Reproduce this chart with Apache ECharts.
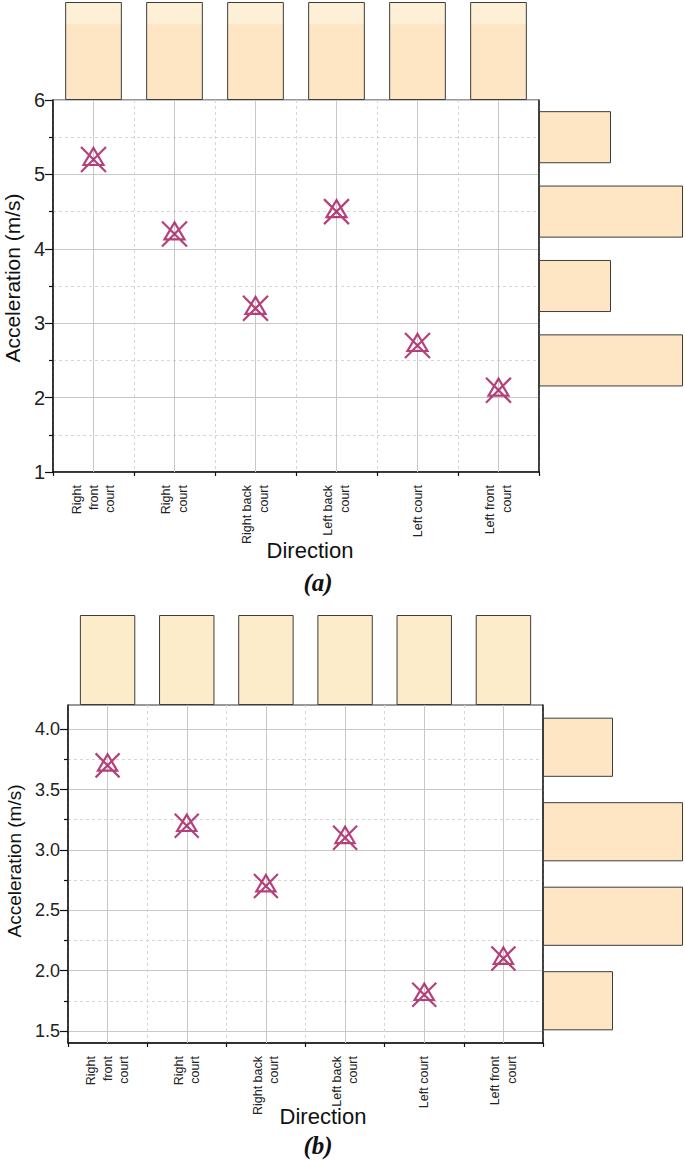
<!DOCTYPE html>
<html><head><meta charset="utf-8">
<script src="https://cdn.jsdelivr.net/npm/echarts@6/dist/echarts.min.js"></script>
<style>html,body{margin:0;padding:0;background:#fff}#c{width:685px;height:1161px}</style>
</head><body><div id="c"></div>
<script>
// ---- data ----
const categories = ['Right\nfront\ncourt', 'Right\ncourt', 'Right back\ncourt', 'Left back\ncourt', 'Left court', 'Left front\ncourt'];
const accelA = [5.2, 4.2, 3.2, 4.5, 2.7, 2.1];
const accelB = [3.7, 3.2, 2.7, 3.1, 1.8, 2.1];
const topCountsA = [1, 1, 1, 1, 1, 1];
const topCountsB = [1, 1, 1, 1, 1, 1];
const binsA = ['1-2', '2-3', '3-4', '4-5', '5-6'];
const binCountsA = [0, 2, 1, 2, 1];
const binsB = ['1.4-2.1', '2.1-2.8', '2.8-3.5', '3.5-4.2'];
const binCountsB = [1, 2, 2, 1];
const yTicksB = [1.5, 2.0, 2.5, 3.0, 3.5, 4.0];
const yMinorTicksB = [1.75, 2.25, 2.75, 3.25, 3.75];
const yNameText = 'Acceleration (m/s)';
const xNameText = 'Direction';
const panelLabels = ['(a)', '(b)'];

// ---- style ----
const FONT = 'Liberation Sans, Arial, sans-serif';
const MARK = '#a3125a';
const BAR_FILL = '#fee6c4';
const BAR_EDGE = '#3c3c3c';
const symbolPath = 'path://M0 0 L25 25 M25 0 L0 25 M12.5 1 L22.5 18 L2.5 18 Z';

const OB = {outerBoundsMode: 'none', containLabel: false};
const grids = [
  Object.assign({left: 53, top: 100, width: 486, height: 372, show: true, borderColor: '#333', borderWidth: 1}, OB),   // a main 0
  Object.assign({left: 53, top: 2, width: 486, height: 98}, OB),                                                       // a top 1
  Object.assign({left: 539, top: 100, width: 144, height: 372}, OB),                                                   // a right 2
  Object.assign({left: 68, top: 705, width: 475, height: 338, show: true, borderColor: '#333', borderWidth: 1}, OB),   // b main 3
  Object.assign({left: 68, top: 615, width: 475, height: 90}, OB),                                                     // b top 4
  Object.assign({left: 543, top: 705, width: 140, height: 338}, OB)                                                    // b right 5
];

function mainX(grid) {
  return {
    type: 'category', gridIndex: grid, data: categories, boundaryGap: true,
    axisLine: {lineStyle: {color: '#111', width: 1.5}},
    axisTick: {alignWithLabel: true, length: 6, lineStyle: {color: '#111', width: 1.2}},
    axisLabel: {rotate: 90, fontFamily: FONT, fontSize: 12.5, lineHeight: 16.5, color: '#222', margin: 13, interval: 0},
    splitLine: {show: false}
  };
}
function minorX(grid) {
  return {
    type: 'category', gridIndex: grid, data: categories, boundaryGap: true, position: 'bottom',
    axisLine: {show: false},
    axisTick: {show: true, length: 4, lineStyle: {color: '#111', width: 1.2}},
    axisLabel: {show: false},
    splitLine: {show: true, lineStyle: {color: '#d6d6d6', width: 1, type: [3, 3]}}
  };
}
function hiddenCat(grid, data) {
  return {type: 'category', gridIndex: grid, data: data, boundaryGap: true,
    axisLine: {show: false}, axisTick: {show: false}, axisLabel: {show: false}, splitLine: {show: false}};
}
function hiddenVal(grid, max) {
  return {type: 'value', gridIndex: grid, min: 0, max: max,
    axisLine: {show: false}, axisTick: {show: false}, axisLabel: {show: false}, splitLine: {show: false}};
}

const xAxes = [
  mainX(0),                       // 0
  minorX(0),                      // 1
  hiddenCat(1, categories),       // 2
  hiddenVal(2, 2),                // 3
  mainX(3),                       // 4
  minorX(3),                      // 5
  hiddenCat(4, categories),       // 6
  hiddenVal(5, 2)                 // 7
];

const yAxes = [
  { // 0 a main
    type: 'value', gridIndex: 0, min: 1, max: 6, interval: 1,
    name: yNameText, nameLocation: 'middle', nameGap: 27,
    nameTextStyle: {fontFamily: FONT, fontSize: 21, color: '#111', padding: [0, 0, 0, 16]},
    axisLine: {show: true, lineStyle: {color: '#111', width: 1.5}},
    axisTick: {show: true, length: 8, lineStyle: {color: '#111', width: 1.2}},
    minorTick: {show: true, splitNumber: 2, length: 4, lineStyle: {color: '#111', width: 1.2}},
    axisLabel: {fontFamily: FONT, fontSize: 20, color: '#222', margin: 8},
    splitLine: {show: true, lineStyle: {color: '#c8c8c8', width: 1}},
    minorSplitLine: {show: true, lineStyle: {color: '#d6d6d6', width: 1, type: [3, 3]}}
  },
  hiddenVal(1, 1), // 1 a top
  { // 2 a right
    type: 'category', gridIndex: 2, data: binsA, boundaryGap: true,
    axisLine: {show: true, lineStyle: {color: '#222', width: 1.5}},
    axisTick: {show: false}, axisLabel: {show: false}, splitLine: {show: false}
  },
  { // 3 b main
    type: 'value', gridIndex: 3, min: 1.4, max: 4.2,
    name: yNameText, nameLocation: 'middle', nameGap: 41,
    nameTextStyle: {fontFamily: FONT, fontSize: 19, color: '#111', padding: [0, 0, 0, 26]},
    axisLine: {show: true, lineStyle: {color: '#111', width: 1.5}},
    axisTick: {show: true, length: 8, customValues: yTicksB, lineStyle: {color: '#111', width: 1.2}},
    axisLabel: {fontFamily: FONT, fontSize: 18, color: '#222', margin: 8, customValues: yTicksB,
      formatter: v => Number(v).toFixed(1)},
    splitLine: {show: true, lineStyle: {color: '#c8c8c8', width: 1}}
  },
  { // 4 b minor
    type: 'value', gridIndex: 3, min: 1.4, max: 4.2, position: 'left',
    axisLine: {show: false},
    axisTick: {show: true, length: 4, customValues: yMinorTicksB, lineStyle: {color: '#111', width: 1.2}},
    axisLabel: {show: false, customValues: yMinorTicksB},
    splitLine: {show: true, lineStyle: {color: '#d6d6d6', width: 1, type: [3, 3]}}
  },
  hiddenVal(4, 1), // 5 b top
  { // 6 b right
    type: 'category', gridIndex: 5, data: binsB, boundaryGap: true,
    axisLine: {show: true, lineStyle: {color: '#222', width: 1.5}},
    axisTick: {show: false}, axisLabel: {show: false}, splitLine: {show: false}
  }
];

const barStyle = {color: BAR_FILL, borderColor: BAR_EDGE, borderWidth: 1};
const topGrad = {type: 'linear', x: 0, y: 0, x2: 0, y2: 1, colorStops: [
  {offset: 0, color: '#fdf0d6'}, {offset: 0.22, color: '#fdf0d6'},
  {offset: 0.23, color: '#fee6c4'}, {offset: 1, color: '#fee6c4'}]};

const scatterStyle = {color: 'rgba(0,0,0,0)', borderColor: MARK, borderWidth: 2.2};
const catLines = {
  silent: true, symbol: ['none', 'none'], label: {show: false},
  lineStyle: {color: '#c8c8c8', width: 1, type: 'solid'},
  data: categories.map(c => ({xAxis: c}))
};

const series = [
  {type: 'bar', xAxisIndex: 2, yAxisIndex: 1, data: topCountsA, barWidth: '70%',
   itemStyle: {color: topGrad, borderColor: BAR_EDGE, borderWidth: 1}, silent: true},
  {type: 'bar', xAxisIndex: 3, yAxisIndex: 2, data: binCountsA, barWidth: '70%', itemStyle: barStyle, silent: true},
  {type: 'scatter', xAxisIndex: 0, yAxisIndex: 0, data: accelA, symbol: symbolPath, symbolSize: 25,
   symbolKeepAspect: true, itemStyle: scatterStyle, z: 5, markLine: catLines},
  {type: 'bar', xAxisIndex: 6, yAxisIndex: 5, data: topCountsB, barWidth: '70%',
   itemStyle: {color: '#fdecc9', borderColor: BAR_EDGE, borderWidth: 1}, silent: true},
  {type: 'bar', xAxisIndex: 7, yAxisIndex: 6, data: binCountsB, barWidth: '70%', itemStyle: barStyle, silent: true},
  {type: 'scatter', xAxisIndex: 4, yAxisIndex: 3, data: accelB, symbol: symbolPath, symbolSize: 24,
   symbolKeepAspect: true, itemStyle: scatterStyle, z: 5, markLine: catLines}
];

const nameFont = '22px "Liberation Sans", Arial, sans-serif';
const panelFont = 'italic bold 25px "Liberation Serif", "Times New Roman", serif';
const chart = echarts.init(document.getElementById('c'), null, {renderer: 'svg'});
chart.setOption({
  backgroundColor: '#fff',
  animation: false,
  grid: grids,
  xAxis: xAxes,
  yAxis: yAxes,
  series: series,
  graphic: [
    {type: 'text', x: 310, y: 550, style: {text: xNameText, font: nameFont, fill: '#111', align: 'center', verticalAlign: 'middle'}},
    {type: 'text', x: 318, y: 582, style: {text: panelLabels[0], font: panelFont, fill: '#111', align: 'center', verticalAlign: 'middle'}},
    {type: 'text', x: 323, y: 1116, style: {text: xNameText, font: nameFont, fill: '#111', align: 'center', verticalAlign: 'middle'}},
    {type: 'text', x: 318, y: 1145, style: {text: panelLabels[1], font: panelFont, fill: '#111', align: 'center', verticalAlign: 'middle'}}
  ]
});
</script></body></html>
